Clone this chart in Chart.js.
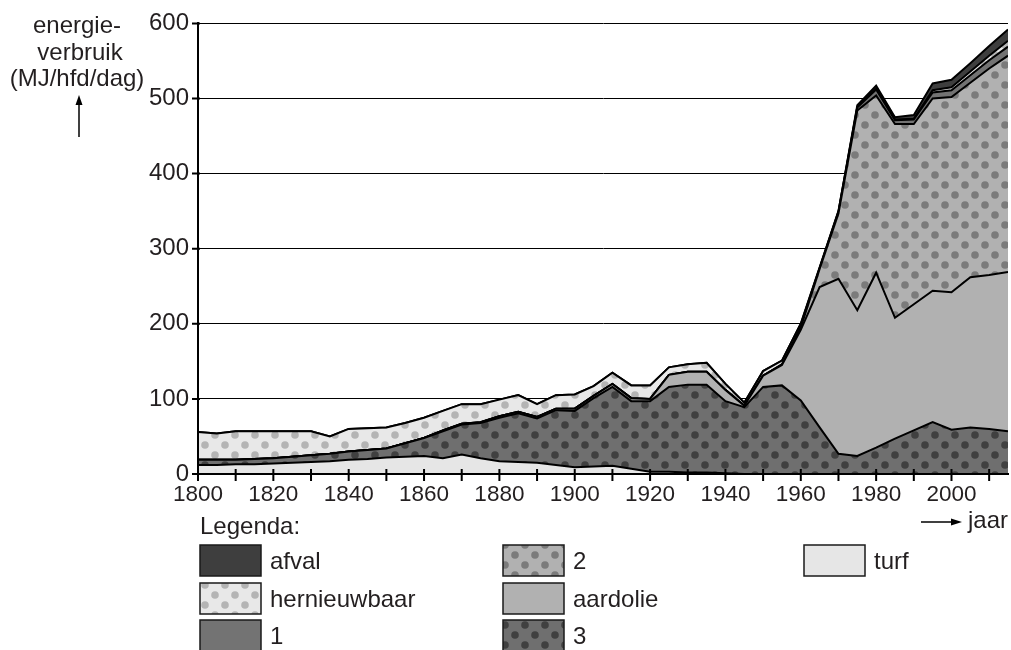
<!DOCTYPE html>
<html>
<head>
<meta charset="utf-8">
<style>
html, body { margin: 0; padding: 0; background: #fff; }
</style>
</head>
<body>
<canvas id="myChart" width="1011" height="650"></canvas>
<script src="https://cdn.jsdelivr.net/npm/chart.js@4/dist/chart.umd.min.js"></script>
<script>
const ctx = document.getElementById('myChart');

// jaartallen (om de 5 jaar)
const jaren = [1800, 1805, 1810, 1815, 1820, 1825, 1830, 1835, 1840, 1845,
  1850, 1855, 1860, 1865, 1870, 1875, 1880, 1885, 1890, 1895,
  1900, 1905, 1910, 1915, 1920, 1925, 1930, 1935, 1940, 1945,
  1950, 1955, 1960, 1965, 1970, 1975, 1980, 1985, 1990, 1995,
  2000, 2005, 2010, 2015];

// energieverbruik per bron (MJ/hfd/dag), van onder naar boven gestapeld
const turf = [12, 12, 13, 13, 14, 15, 16, 17, 19, 20,
  22, 23, 24, 21, 26, 21, 17, 16, 15, 12,
  9, 10, 11, 7, 3, 3, 2, 2, 1, 0,
  0, 0, 0, 0, 0, 0, 0, 0, 0, 0,
  0, 0, 0, 0];
const reeks3 = [7, 7, 6, 7, 7, 8, 9, 10, 11, 12,
  12, 18, 24, 36, 40, 47, 58, 65, 59, 73,
  75, 91, 105, 90, 94, 113, 117, 117, 96, 89,
  116, 118, 98, 62, 27, 24, 35, 47, 58, 69,
  59, 62, 60, 57];
const aardolie = [0, 0, 0, 0, 0, 0, 0, 0, 0, 0,
  0, 0, 0, 1, 1, 1, 2, 2, 2, 2,
  3, 3, 4, 4, 3, 16, 17, 17, 15, 2,
  15, 27, 94, 187, 233, 194, 233, 161, 168, 175,
  183, 200, 205, 212];
const reeks2 = [0, 0, 0, 0, 0, 0, 0, 0, 0, 0,
  0, 0, 0, 0, 0, 0, 0, 0, 0, 0,
  0, 0, 0, 0, 0, 0, 0, 0, 0, 0,
  0, 1, 3, 24, 87, 266, 236, 258, 240, 256,
  260, 259, 275, 288];
const reeks1 = [0, 0, 0, 0, 0, 0, 0, 0, 0, 0,
  0, 0, 0, 0, 0, 0, 0, 0, 0, 0,
  0, 0, 0, 0, 0, 0, 0, 0, 0, 0,
  0, 0, 0, 0, 1, 4, 8, 5, 6, 8,
  9, 10, 11, 12];
const hernieuwbaar = [37, 35, 38, 37, 36, 34, 32, 23, 30, 29,
  28, 27, 27, 26, 26, 24, 22, 22, 17, 18,
  19, 13, 15, 17, 18, 10, 10, 12, 8, 4,
  6, 5, 5, 2, 2, 1, 1, 1, 1, 3,
  4, 5, 6, 8];
const afval = [0, 0, 0, 0, 0, 0, 0, 0, 0, 0,
  0, 0, 0, 0, 0, 0, 0, 0, 0, 0,
  0, 0, 0, 0, 0, 0, 0, 0, 0, 0,
  0, 0, 0, 0, 0, 2, 4, 3, 5, 9,
  10, 11, 13, 15];

const tekstKleur = '#231f20';
const letter = '"Liberation Sans", Arial, sans-serif';

// stippenpatroon
function stippen(bg, dot) {
  const c = document.createElement('canvas');
  c.width = 20; c.height = 20;
  const g = c.getContext('2d');
  g.fillStyle = bg;
  g.fillRect(0, 0, 20, 20);
  g.fillStyle = dot;
  [[5, 5], [15, 15]].forEach(p => {
    g.beginPath();
    g.arc(p[0], p[1], 3.8, 0, Math.PI * 2);
    g.fill();
  });
  return ctx.getContext('2d').createPattern(c, 'repeat');
}

const vulling = {
  turf: '#e6e6e6',
  reeks3: stippen('#6f6f6f', '#404040'),
  aardolie: '#b1b1b1',
  reeks2: stippen('#b1b1b1', '#7b7b7b'),
  reeks1: '#737373',
  hernieuwbaar: stippen('#e8e8e8', '#b4b4b4'),
  afval: '#3e3e3e'
};

function reeks(label, waarden, kleur, fill) {
  return {
    label: label,
    data: jaren.map((j, i) => ({ x: j, y: waarden[i] })),
    backgroundColor: kleur,
    borderColor: '#000',
    borderWidth: 2,
    pointRadius: 0,
    tension: 0,
    fill: fill
  };
}

const extra = {
  id: 'extra',
  afterDatasetsDraw(chart) {
    const c = chart.ctx, x = chart.scales.x, y = chart.scales.y, a = chart.chartArea;
    c.save();
    c.strokeStyle = '#000';
    c.lineWidth = 2;
    c.beginPath();
    c.moveTo(a.left, a.top); c.lineTo(a.left, a.bottom + 1);
    c.moveTo(a.left, a.bottom); c.lineTo(a.right, a.bottom);
    for (let j = 1800; j <= 2010; j += 10) {
      const px = x.getPixelForValue(j);
      c.moveTo(px, a.bottom - 5); c.lineTo(px, a.bottom + 7);
    }
    for (let v = 0; v <= 600; v += 100) {
      const py = y.getPixelForValue(v);
      c.moveTo(a.left - 6, py); c.lineTo(a.left + 2, py);
    }
    c.stroke();
    c.restore();
  },
  afterDraw(chart) {
    const c = chart.ctx;
    c.save();
    c.fillStyle = tekstKleur;
    c.font = '24px ' + letter;
    c.textBaseline = 'alphabetic';

    // astitel y
    c.textAlign = 'center';
    c.fillText('energie-', 77, 33);
    c.fillText('verbruik', 80, 60);
    c.fillText('(MJ/hfd/dag)', 77, 86);
    c.strokeStyle = '#000';
    c.lineWidth = 1.5;
    c.beginPath();
    c.moveTo(79, 137); c.lineTo(79, 100);
    c.stroke();
    c.beginPath();
    c.moveTo(79, 95); c.lineTo(75.5, 105); c.lineTo(82.5, 105); c.closePath();
    c.fillStyle = '#000';
    c.fill();

    // astitel x
    c.beginPath();
    c.moveTo(921, 522); c.lineTo(955, 522);
    c.stroke();
    c.beginPath();
    c.moveTo(962, 522); c.lineTo(951, 518.5); c.lineTo(951, 525.5); c.closePath();
    c.fill();
    c.fillStyle = tekstKleur;
    c.textAlign = 'left';
    c.fillText('jaar', 968, 528);

    // legenda
    c.fillText('Legenda:', 200, 534);
    const items = [
      ['afval', vulling.afval], ['hernieuwbaar', vulling.hernieuwbaar], ['1', vulling.reeks1],
      ['2', vulling.reeks2], ['aardolie', vulling.aardolie], ['3', vulling.reeks3],
      ['turf', vulling.turf]
    ];
    const kolX = [200, 503, 804];
    const rijY = [545, 583, 620];
    items.forEach((it, i) => {
      const bx = kolX[Math.floor(i / 3)], by = rijY[i % 3];
      c.fillStyle = it[1];
      c.fillRect(bx, by, 61, 31);
      c.strokeStyle = '#1a1a1a';
      c.lineWidth = 1.5;
      c.strokeRect(bx, by, 61, 31);
      c.fillStyle = tekstKleur;
      c.fillText(it[0], bx + 70, by + 23.5);
    });
    c.restore();
  }
};

new Chart(ctx, {
  type: 'line',
  data: {
    datasets: [
      reeks('turf', turf, vulling.turf, 'origin'),
      reeks('3', reeks3, vulling.reeks3, '-1'),
      reeks('aardolie', aardolie, vulling.aardolie, '-1'),
      reeks('2', reeks2, vulling.reeks2, '-1'),
      reeks('1', reeks1, vulling.reeks1, '-1'),
      reeks('hernieuwbaar', hernieuwbaar, vulling.hernieuwbaar, '-1'),
      reeks('afval', afval, vulling.afval, '-1')
    ]
  },
  options: {
    responsive: false,
    animation: false,
    layout: { padding: { top: 21, right: 3, left: 0, bottom: 0 } },
    plugins: { legend: { display: false }, tooltip: { enabled: false } },
    scales: {
      x: {
        type: 'linear',
        min: 1800,
        max: 2015,
        grid: { display: false, drawTicks: false },
        border: { display: true, color: '#000', width: 2 },
        ticks: {
          stepSize: 20,
          includeBounds: false,
          padding: 7,
          color: tekstKleur,
          font: { family: letter, size: 22.5 },
          callback: v => String(v)
        },
        afterFit: s => { s.height = 176; }
      },
      y: {
        stacked: true,
        min: 0,
        max: 600,
        grid: { color: '#000', lineWidth: 1, drawTicks: false },
        border: { display: true, color: '#000', width: 2 },
        ticks: {
          stepSize: 100,
          padding: 9,
          color: tekstKleur,
          font: { family: letter, size: 24 }
        },
        afterFit: s => { s.width = 198; }
      }
    }
  },
  plugins: [extra]
});
</script>
</body>
</html>
